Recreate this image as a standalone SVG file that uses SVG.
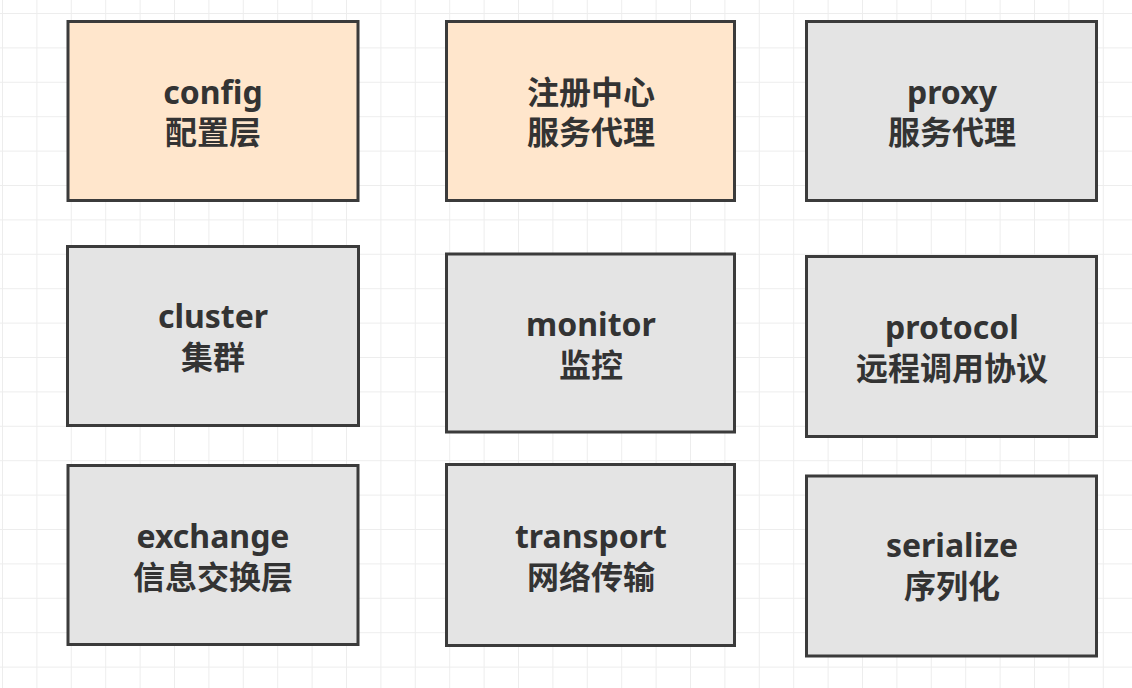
<svg xmlns="http://www.w3.org/2000/svg" width="1132" height="688" viewBox="0 0 1132 688">
<defs>
<pattern id="grid" x="2" y="13" width="34.4" height="34.4" patternUnits="userSpaceOnUse">
<path d="M0 0H34.4M0 0V34.4" fill="none" stroke="#ededed" stroke-width="2"/>
</pattern>
</defs>
<style>
.box{stroke:#3b3b3b;stroke-width:3}
.peach{fill:#ffe6cc}
.gray{fill:#e4e4e4}
.t{font-family:"Noto Sans","Noto Sans CJK SC",sans-serif;font-weight:bold;font-size:32px;fill:#333333;text-anchor:middle}
</style>
<rect width="1132" height="688" fill="#ffffff"/>
<rect width="1132" height="688" fill="url(#grid)"/>
<g id="connectors"></g>
<g id="config">
<rect class="box peach" x="68" y="21.5" width="290" height="179"/>
<text class="t" x="213" y="104">config</text>
<text class="t" x="213" y="144">配置层</text>
</g>
<g id="registry">
<rect class="box peach" x="446.5" y="21.5" width="288" height="179"/>
<text class="t" x="591" y="104">注册中心</text>
<text class="t" x="591" y="144">服务代理</text>
</g>
<g id="proxy">
<rect class="box gray" x="806.5" y="21.5" width="290" height="179"/>
<text class="t" x="952" y="104">proxy</text>
<text class="t" x="952" y="144">服务代理</text>
</g>
<g id="cluster">
<rect class="box gray" x="67.5" y="246.5" width="291" height="179"/>
<text class="t" x="213" y="328">cluster</text>
<text class="t" x="213" y="369">集群</text>
</g>
<g id="monitor">
<rect class="box gray" x="446.5" y="254" width="288" height="178"/>
<text class="t" x="591" y="336">monitor</text>
<text class="t" x="591" y="377">监控</text>
</g>
<g id="protocol">
<rect class="box gray" x="806.5" y="256.5" width="290" height="180"/>
<text class="t" x="952" y="339">protocol</text>
<text class="t" x="952" y="380">远程调用协议</text>
</g>
<g id="exchange">
<rect class="box gray" x="68" y="465.5" width="290" height="179"/>
<text class="t" x="213" y="548">exchange</text>
<text class="t" x="213" y="589">信息交换层</text>
</g>
<g id="transport">
<rect class="box gray" x="446.5" y="464.5" width="288" height="181"/>
<text class="t" x="591" y="548">transport</text>
<text class="t" x="591" y="589">网络传输</text>
</g>
<g id="serialize">
<rect class="box gray" x="806.5" y="476" width="290" height="180"/>
<text class="t" x="952" y="557">serialize</text>
<text class="t" x="952" y="598">序列化</text>
</g>
</svg>
